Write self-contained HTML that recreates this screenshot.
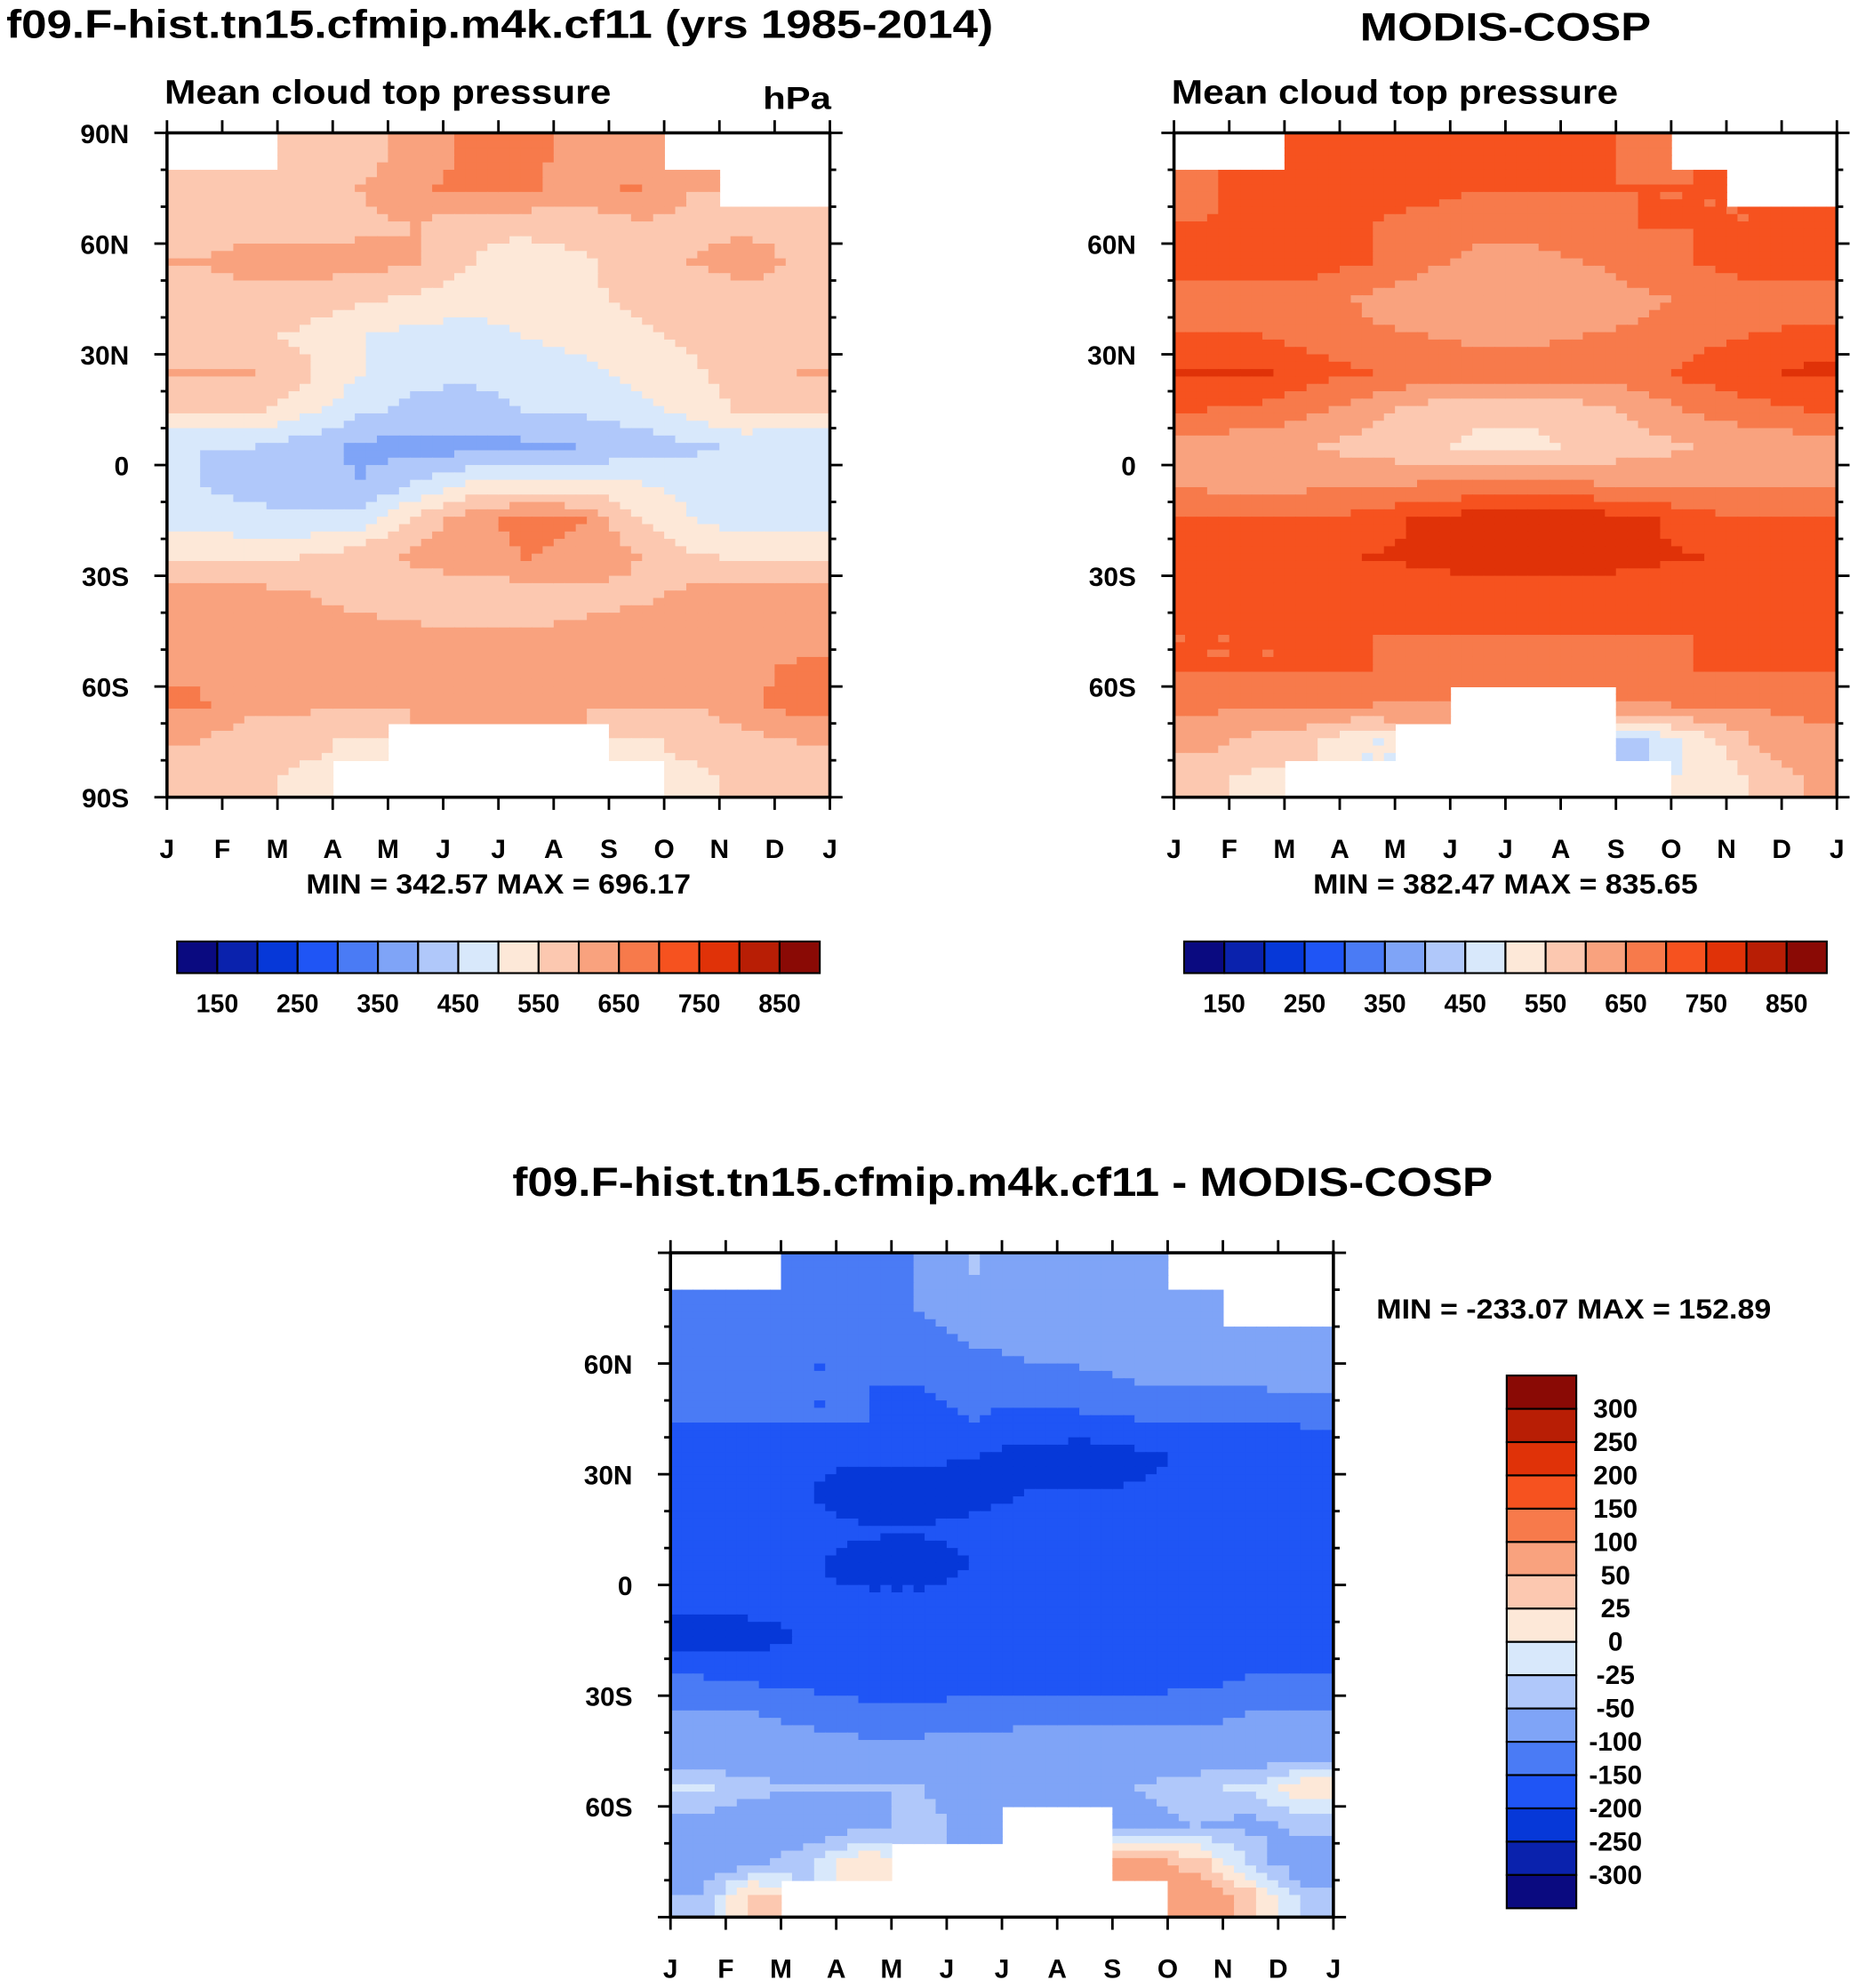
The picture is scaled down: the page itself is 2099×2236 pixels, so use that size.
<!DOCTYPE html>
<html><head><meta charset="utf-8"><style>
html,body{margin:0;padding:0;background:#fff;}
svg{display:block;}
text{font-family:"Liberation Sans",sans-serif;font-weight:bold;fill:#000;}
</style></head><body>
<svg id="fig" xmlns="http://www.w3.org/2000/svg" width="2099" height="2236" viewBox="0 0 1475 1571" preserveAspectRatio="none">
<text x="5" y="30" font-size="31" textLength="780" lengthAdjust="spacingAndGlyphs">f09.F-hist.tn15.cfmip.m4k.cf11 (yrs 1985-2014)</text>
<text x="1075" y="32" font-size="31" textLength="230" lengthAdjust="spacingAndGlyphs">MODIS-COSP</text>
<text x="405" y="945" font-size="32" textLength="775" lengthAdjust="spacingAndGlyphs">f09.F-hist.tn15.cfmip.m4k.cf11 - MODIS-COSP</text>
<g id="layer"></g>
</svg>
<script>
const months = ['J','F','M','A','M','J','J','A','S','O','N','D','J'];
const latLabels = ['90N','60N','30N','0','30S','60S','90S'];
const absLevels = [150,200,250,300,350,400,450,500,550,600,650,700,750,800,850];
const absLabels = ['150','250','350','450','550','650','750','850'];
const diffLevels = [-300,-250,-200,-150,-100,-50,-25,0,25,50,100,150,200,250,300];
const diffLabels = ['300','250','200','150','100','50','25','0','-25','-50','-100','-150','-200','-250','-300'];
const colors = ['#0a0a80','#0a22ad','#0638d8','#1f55f5','#4a7bf5','#7fa4f7','#b0c8fa','#d8e8fb','#fde8d8','#fcc8b0','#f9a27e','#f77a4b','#f6521f','#e03208','#b81e05','#8a0a05'];
// rows 85N..85S (10 deg bands), columns Jan..Dec
const modelVals = [
[null,null,560,570,620,660,660,640,600,null,null,null],
[560,560,570,600,640,670,660,620,660,600,null,null],
[580,580,570,590,600,560,560,570,590,590,590,590],
[600,620,620,620,600,550,530,540,580,600,620,590],
[580,580,580,560,540,520,530,540,560,580,580,580],
[580,560,540,500,480,480,500,520,540,560,560,580],
[600,600,560,500,460,460,470,480,520,540,580,600],
[560,560,520,460,440,430,450,460,480,520,560,560],
[450,450,420,390,380,380,390,400,420,440,460,450],
[450,430,420,400,450,500,520,520,500,480,460,450],
[480,470,460,480,560,640,660,650,560,500,480,480],
[540,540,550,580,610,640,650,640,600,560,540,540],
[620,620,600,580,560,560,570,580,590,610,620,620],
[620,620,620,620,610,600,600,610,620,620,620,620],
[640,640,620,610,610,610,610,610,610,620,640,660],
[660,620,610,600,600,600,600,600,600,600,640,670],
[600,560,560,540,null,null,null,null,540,560,580,600],
[580,560,540,null,null,null,null,null,null,540,560,580]];
const obsVals = [
[null,null,720,720,720,720,720,720,680,null,null,null],
[680,730,720,720,720,700,700,700,700,700,null,null],
[700,720,730,700,680,660,660,680,700,700,700,700],
[720,720,720,700,660,640,640,650,680,700,720,720],
[680,680,680,640,620,600,600,620,640,660,680,680],
[700,700,680,660,650,640,640,650,660,680,700,710],
[760,760,720,700,680,680,680,680,680,720,740,760],
[700,690,660,620,580,560,560,580,620,660,680,700],
[620,620,600,580,560,540,540,560,580,600,620,620],
[640,620,640,640,650,650,650,650,640,640,640,640],
[700,700,700,720,760,780,790,780,760,720,700,700],
[740,740,740,750,760,780,790,780,760,750,740,740],
[720,720,720,720,720,720,720,720,720,720,720,720],
[700,700,700,700,700,700,700,700,700,700,700,700],
[700,700,700,700,690,680,680,680,690,700,700,700],
[660,660,660,650,640,null,null,null,640,660,660,660],
[620,580,560,500,null,null,null,null,440,520,600,640],
[560,540,null,null,null,null,null,null,null,500,560,600]];
const diffVals = [
[null,null,-140,-140,-100,-50,-60,-80,-80,null,null,null],
[-140,-140,-150,-120,-100,-80,-80,-80,-60,-100,null,null],
[-150,-150,-150,-150,-120,-100,-80,-80,-80,-90,-80,-80],
[-140,-140,-150,-150,-150,-140,-130,-110,-100,-100,-90,-80],
[-150,-150,-150,-150,-160,-150,-160,-160,-150,-150,-150,-140],
[-190,-190,-190,-190,-190,-200,-220,-230,-210,-190,-190,-190],
[-190,-190,-200,-230,-230,-210,-200,-200,-195,-190,-190,-190],
[-190,-190,-190,-195,-195,-190,-190,-190,-190,-190,-190,-190],
[-190,-190,-195,-215,-230,-200,-190,-190,-190,-180,-180,-180],
[-190,-190,-190,-190,-180,-170,-170,-170,-180,-185,-185,-185],
[-230,-215,-195,-190,-190,-190,-195,-195,-190,-190,-190,-190],
[-150,-160,-175,-185,-185,-190,-200,-200,-185,-170,-150,-150],
[-100,-100,-110,-130,-130,-120,-110,-110,-110,-110,-100,-100],
[-80,-80,-80,-80,-80,-80,-80,-80,-80,-80,-80,-80],
[-20,-40,-50,-50,-50,-60,-60,-60,-50,-30,-20,20],
[-60,-80,-80,-60,-40,-60,null,null,-60,-50,-60,-40],
[-80,-60,-30,20,null,null,null,null,60,40,-30,-80],
[-50,40,null,null,null,null,null,null,null,80,40,-40]];

const NS='http://www.w3.org/2000/svg';
const layer=document.getElementById('layer');
function mk(tag,attrs,parent){const e=document.createElementNS(NS,tag);for(const k in attrs)e.setAttribute(k,attrs[k]);(parent||layer).appendChild(e);return e;}
function colorFor(v,levels){let i=0;while(i<levels.length&&v>=levels[i])i++;return colors[i];}
function sample(grid,fx,fy){
  const cx=fx-0.5, cy=fy-0.5;
  const x0=Math.floor(cx), y0=Math.floor(cy);
  let s=0,w=0;
  for(let dy=0;dy<2;dy++)for(let dx=0;dx<2;dx++){
    let xi=Math.min(11,Math.max(0,x0+dx)), yi=Math.min(17,Math.max(0,y0+dy));
    const v=grid[yi][xi]; if(v===null)continue;
    const wx=1-Math.abs(cx-(x0+dx)), wy=1-Math.abs(cy-(y0+dy));
    const ww=Math.max(0,wx)*Math.max(0,wy); s+=v*ww; w+=ww;
  }
  return w>0?s/w:null;
}
function panel(name,grid,levels,x0,y0,w,h,showPoles){
  const g=mk('g',{});
  
  
  const sub=5, cw=w/12, ch=h/18;
  for(let r=0;r<18;r++)for(let c=0;c<12;c++){
    if(grid[r][c]===null)continue;
    for(let j=0;j<sub;j++)for(let i=0;i<sub;i++){
      const fx=c+(i+0.5)/sub, fy=r+(j+0.5)/sub;
      const v=sample(grid,fx,fy); if(v===null)continue;
      const rc=mk('rect',{x:(x0+(c+i/sub)*cw).toFixed(2),y:(y0+(r+j/sub)*ch).toFixed(2),width:(cw/sub+0.6).toFixed(2),height:(ch/sub+0.6).toFixed(2),fill:colorFor(v,levels)},g);
      
      
    }
  }
  const fr=mk('rect',{x:x0,y:y0,width:w,height:h,fill:'none',stroke:'#000','stroke-width':2.5},g);
  
  
  for(let m=0;m<=12;m++){
    const x=x0+m*w/12;
    mk('line',{x1:x,x2:x,y1:y0+h,y2:y0+h+10,stroke:'#000','stroke-width':2},g);
    mk('line',{x1:x,x2:x,y1:y0,y2:y0-10,stroke:'#000','stroke-width':2},g);
    const t=mk('text',{x:x,y:y0+h+48,'font-size':21,'text-anchor':'middle'},g);
    t.textContent=months[m];
    
    
  }
  for(let k=0;k<=18;k++){
    const y=y0+k*h/18, major=k%3===0, L=major?10:5;
    mk('line',{x1:x0,x2:x0-L,y1:y,y2:y,stroke:'#000','stroke-width':2},g);
    mk('line',{x1:x0+w,x2:x0+w+L,y1:y,y2:y,stroke:'#000','stroke-width':2},g);
    if(major){const idx=k/3; if(!showPoles&&(idx===0||idx===6))continue;
      const t=mk('text',{x:x0-30,y:y+8,'font-size':21,'text-anchor':'end'},g);
      t.textContent=latLabels[idx];
      
      }
  }
}
function hbar(name,x0,y0,w,h){
  const g=mk('g',{});
  
  
  const bw=w/16;
  colors.forEach((c,i)=>{mk('rect',{x:x0+i*bw,y:y0,width:bw,height:h,fill:c,stroke:'#000','stroke-width':1.5},g);});
  absLabels.forEach((l,i)=>{const t=mk('text',{x:x0+(1+2*i)*bw,y:y0+h+31,'font-size':20,'text-anchor':'middle'},g);t.textContent=l;
    
    });
}
function txt(name,s,x,y,size,anchor,len){const a={x:x,y:y,'font-size':size,'text-anchor':anchor||'start'};if(len){a.textLength=len;a.lengthAdjust='spacingAndGlyphs';}const t=mk('text',a);t.textContent=s;
  
  }

panel('model-panel',modelVals,absLevels,132,105,524,525,true);
panel('obs-panel',obsVals,absLevels,928,105,524,525,false);
panel('diff-panel',diffVals,diffLevels,530,990,524,525,false);
txt('model-subtitle','Mean cloud top pressure',130,82,27,'start',353);
txt('model-units','hPa',603,86,25,'start',54);
txt('obs-subtitle','Mean cloud top pressure',926,82,27,'start',353);
txt('model-minmax','MIN = 342.57 MAX = 696.17',242,706,22,'start',304);
txt('obs-minmax','MIN = 382.47 MAX = 835.65',1038,706,22,'start',304);
txt('diff-minmax','MIN = -233.07 MAX = 152.89',1088,1042,22,'start',312);
hbar('model-colorbar',140,744,508,25);
hbar('obs-colorbar',936,744,508,25);
(function(){
  const g=mk('g',{});
  
  
  const x0=1191,y0=1087,w=55,h=421,bh=h/16;
  for(let i=0;i<16;i++)mk('rect',{x:x0,y:y0+i*bh,width:w,height:bh,fill:colors[15-i],stroke:'#000','stroke-width':1.5},g);
  diffLabels.forEach((l,i)=>{const t=mk('text',{x:1277,y:y0+(i+1)*bh+7,'font-size':21,'text-anchor':'middle'},g);t.textContent=l;
    
    });
})();
</script>
</body></html>
